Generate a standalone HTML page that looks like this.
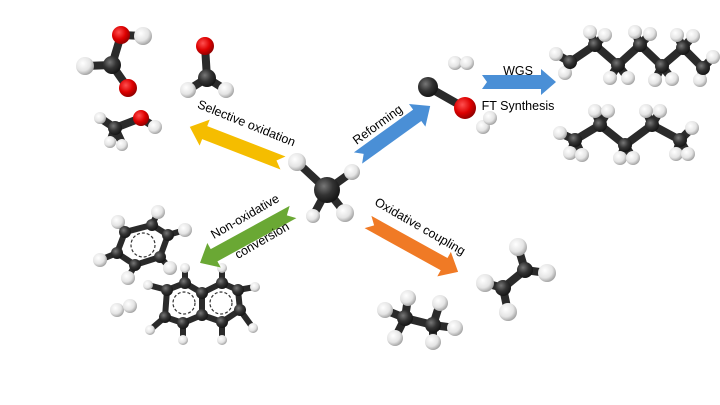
<!DOCTYPE html>
<html><head><meta charset="utf-8"><style>html,body{margin:0;padding:0;background:#fff}svg{display:block}text{font-family:"Liberation Sans",sans-serif;font-size:12.5px;fill:#000}</style></head>
<body>
<svg width="720" height="405" viewBox="0 0 720 405" xmlns="http://www.w3.org/2000/svg">
<defs>
<radialGradient id="h" cx="0.38" cy="0.35" r="0.7"><stop offset="0" stop-color="#fff"/><stop offset="0.6" stop-color="#e4e4e4"/><stop offset="1" stop-color="#9a9a9a"/></radialGradient>
<radialGradient id="c" cx="0.38" cy="0.35" r="0.7"><stop offset="0" stop-color="#777"/><stop offset="0.5" stop-color="#333"/><stop offset="1" stop-color="#111"/></radialGradient>
<radialGradient id="o" cx="0.38" cy="0.35" r="0.7"><stop offset="0" stop-color="#ff5050"/><stop offset="0.55" stop-color="#dd0000"/><stop offset="1" stop-color="#800"/></radialGradient>
</defs>
<g stroke="#2a2a2a" stroke-width="8" stroke-linecap="round" fill="none">
<path d="M121,35 L112,65 L128,88 M121,35 L143,36 M112,65 L85,66"/>
<path d="M205,46 L207,78 L188,90 M207,78 L226,90"/>
<path d="M115,128 L141,118 L155,127 M115,128 L100,118 M115,128 L110,142 M115,128 L122,143"/>
<path d="M327,190 L297,162 M327,190 L352,172 M327,190 L345,213 M327,190 L313,216"/>
<path d="M428,87 L465,108"/>
<path d="M570,62 L595,45 L618,65 L640,45 L662,66 L683,48 L703,68"/>
<path d="M570,62 L556,54 M570,62 L565,73 M595,45 L590,32 M595,45 L605,35 M618,65 L610,78 M618,65 L628,78 M640,45 L635,32 M640,45 L650,34 M662,66 L655,80 M662,66 L672,79 M683,48 L677,35 M683,48 L693,36 M703,68 L713,57 M703,68 L700,80"/>
<path d="M575,140 L600,125 L625,145 L652,125 L680,140"/>
<path d="M575,140 L560,133 M575,140 L570,153 M575,140 L582,155 M600,125 L595,111 M600,125 L608,111 M625,145 L620,158 M625,145 L633,158 M652,125 L646,111 M652,125 L660,111 M680,140 L692,128 M680,140 L676,154 M680,140 L688,154"/>
<path d="M125,232 L152,225 L168,235 L160,257 L135,265 L117,253 Z M152,225 L158,212 M125,232 L118,222 M168,235 L185,230 M160,257 L170,268 M135,265 L128,278 M117,253 L100,260" stroke-width="6"/>
<path d="M167,290 L185,283 L202,293 L222,283 L238,290 L240,310 L222,322 L202,315 L183,323 L165,317 Z M202,293 L202,315 M185,283 L185,268 M222,283 L222,268 M238,290 L255,287 M240,310 L253,328 M222,322 L222,340 M183,323 L183,340 M165,317 L150,330 M167,290 L148,285" stroke-width="6"/>
<path d="M405,318 L433,325 M405,318 L385,310 M405,318 L408,298 M405,318 L395,338 M433,325 L440,303 M433,325 L455,328 M433,325 L433,342"/>
<path d="M503,288 L525,270 M525,270 L518,247 M525,270 L547,273 M503,288 L485,283 M503,288 L508,312"/>
</g>
<g stroke="#333" stroke-width="1.2" stroke-dasharray="3,2" fill="none">
<circle cx="143" cy="245" r="12"/><circle cx="184" cy="303" r="11"/><circle cx="221" cy="303" r="11"/>
</g>
<g fill="url(#h)">
<circle cx="143" cy="36" r="9"/><circle cx="85" cy="66" r="9"/>
<circle cx="188" cy="90" r="8"/><circle cx="226" cy="90" r="8"/>
<circle cx="155" cy="127" r="7"/><circle cx="100" cy="118" r="6"/><circle cx="110" cy="142" r="6"/><circle cx="122" cy="145" r="6"/>
<circle cx="297" cy="162" r="9"/><circle cx="352" cy="172" r="8"/><circle cx="345" cy="213" r="9"/><circle cx="313" cy="216" r="7"/>
<circle cx="455" cy="63" r="7"/><circle cx="467" cy="63" r="7"/><circle cx="483" cy="127" r="7"/><circle cx="490" cy="118" r="7"/>
<circle cx="556" cy="54" r="7"/><circle cx="565" cy="73" r="7"/><circle cx="590" cy="32" r="7"/><circle cx="605" cy="35" r="7"/><circle cx="610" cy="78" r="7"/><circle cx="628" cy="78" r="7"/><circle cx="635" cy="32" r="7"/><circle cx="650" cy="34" r="7"/><circle cx="655" cy="80" r="7"/><circle cx="672" cy="79" r="7"/><circle cx="677" cy="35" r="7"/><circle cx="693" cy="36" r="7"/><circle cx="713" cy="57" r="7"/><circle cx="700" cy="80" r="7"/>
<circle cx="560" cy="133" r="7"/><circle cx="570" cy="153" r="7"/><circle cx="582" cy="155" r="7"/><circle cx="595" cy="111" r="7"/><circle cx="608" cy="111" r="7"/><circle cx="620" cy="158" r="7"/><circle cx="633" cy="158" r="7"/><circle cx="646" cy="111" r="7"/><circle cx="660" cy="111" r="7"/><circle cx="692" cy="128" r="7"/><circle cx="676" cy="154" r="7"/><circle cx="688" cy="154" r="7"/>
<circle cx="158" cy="212" r="7"/><circle cx="118" cy="222" r="7"/><circle cx="185" cy="230" r="7"/><circle cx="170" cy="268" r="7"/><circle cx="128" cy="278" r="7"/><circle cx="100" cy="260" r="7"/>
<circle cx="185" cy="268" r="5"/><circle cx="222" cy="268" r="5"/><circle cx="255" cy="287" r="5"/><circle cx="253" cy="328" r="5"/><circle cx="222" cy="340" r="5"/><circle cx="183" cy="340" r="5"/><circle cx="150" cy="330" r="5"/><circle cx="148" cy="285" r="5"/>
<circle cx="117" cy="310" r="7"/><circle cx="130" cy="306" r="7"/>
<circle cx="385" cy="310" r="8"/><circle cx="408" cy="298" r="8"/><circle cx="395" cy="338" r="8"/><circle cx="440" cy="303" r="8"/><circle cx="455" cy="328" r="8"/><circle cx="433" cy="342" r="8"/>
<circle cx="518" cy="247" r="9"/><circle cx="547" cy="273" r="9"/><circle cx="485" cy="283" r="9"/><circle cx="508" cy="312" r="9"/>
</g>
<g fill="url(#c)">
<circle cx="112" cy="65" r="9"/><circle cx="207" cy="78" r="9"/><circle cx="115" cy="128" r="7"/><circle cx="327" cy="190" r="13"/><circle cx="428" cy="87" r="10"/>
<circle cx="570" cy="62" r="7"/><circle cx="595" cy="45" r="7"/><circle cx="618" cy="65" r="7"/><circle cx="640" cy="45" r="7"/><circle cx="662" cy="66" r="7"/><circle cx="683" cy="48" r="7"/><circle cx="703" cy="68" r="7"/>
<circle cx="575" cy="140" r="7"/><circle cx="600" cy="125" r="7"/><circle cx="625" cy="145" r="7"/><circle cx="652" cy="125" r="7"/><circle cx="680" cy="140" r="7"/>
<circle cx="125" cy="232" r="6"/><circle cx="152" cy="225" r="6"/><circle cx="168" cy="235" r="6"/><circle cx="160" cy="257" r="6"/><circle cx="135" cy="265" r="6"/><circle cx="117" cy="253" r="6"/>
<circle cx="167" cy="290" r="6"/><circle cx="185" cy="283" r="6"/><circle cx="202" cy="293" r="6"/><circle cx="222" cy="283" r="6"/><circle cx="238" cy="290" r="6"/><circle cx="240" cy="310" r="6"/><circle cx="222" cy="322" r="6"/><circle cx="202" cy="315" r="6"/><circle cx="183" cy="323" r="6"/><circle cx="165" cy="317" r="6"/>
<circle cx="405" cy="318" r="8"/><circle cx="433" cy="325" r="8"/><circle cx="503" cy="288" r="8"/><circle cx="525" cy="270" r="8"/>
</g>
<g fill="url(#o)">
<circle cx="121" cy="35" r="9"/><circle cx="128" cy="88" r="9"/><circle cx="205" cy="46" r="9"/><circle cx="141" cy="118" r="8"/><circle cx="465" cy="108" r="11"/>
</g>
<path transform="translate(283,163) rotate(201.2)" d="M0,-7 L84,-7 L84,-14 L100,0 L84,14 L84,7 L0,7 L7,0 Z" fill="#f5bd00"/>
<path transform="translate(358,158) rotate(-35.8)" d="M0,-7 L73,-7 L73,-14 L89,0 L73,14 L73,7 L0,7 L7,0 Z" fill="#4a8fd6"/>
<path transform="translate(293,212) rotate(151.3)" d="M0,-7 L90,-7 L90,-14 L106,0 L90,14 L90,7 L0,7 L7,0 Z" fill="#6aa834"/>
<path transform="translate(368,222) rotate(29)" d="M0,-7 L87,-7 L87,-14 L103,0 L87,14 L87,7 L0,7 L7,0 Z" fill="#f07a25"/>
<path transform="translate(482,82)" d="M0,-7 L59,-7 L59,-13 L74,0 L59,13 L59,7 L0,7 L5,0 Z" fill="#4a8fd6"/>
<text transform="translate(245,127) rotate(22)" text-anchor="middle">Selective oxidation</text>
<text transform="translate(380,128) rotate(-36)" text-anchor="middle">Reforming</text>
<text transform="translate(247,220) rotate(-30)" text-anchor="middle">Non-oxidative</text>
<text transform="translate(264,244) rotate(-30)" text-anchor="middle">conversion</text>
<text transform="translate(418,230) rotate(30)" text-anchor="middle">Oxidative coupling</text>
<text x="518" y="75" text-anchor="middle">WGS</text>
<text x="518" y="110" text-anchor="middle">FT Synthesis</text>
</svg>
</body></html>
